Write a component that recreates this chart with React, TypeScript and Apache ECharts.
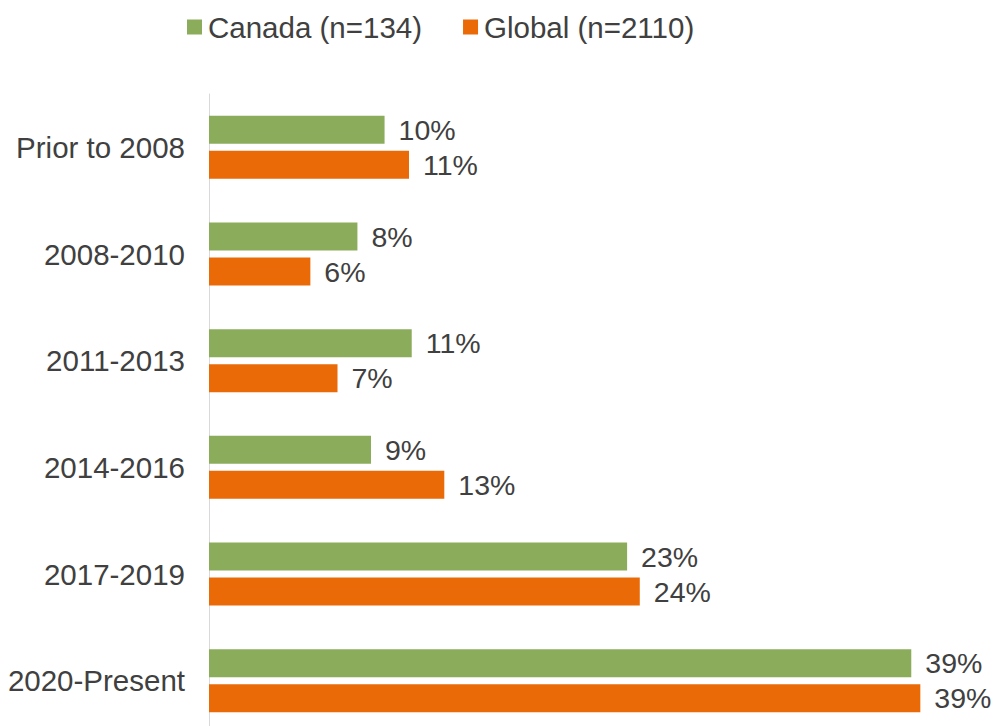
import React, { useEffect, useRef } from "react";
import * as echarts from "echarts";

const categories = ["Prior to 2008", "2008-2010", "2011-2013", "2014-2016", "2017-2019", "2020-Present"];
const canadaValues = [9.7, 8.2, 11.2, 8.95, 23.1, 38.8];
const globalValues = [11.05, 5.6, 7.1, 13.0, 23.8, 39.3];
const seriesNames = ["Canada (n=134)", "Global (n=2110)"];

const FONT = "'Liberation Sans', Arial, sans-serif";
const TEXT = "#404040";

export default function App() {
  const ref = useRef<HTMLDivElement>(null);
  useEffect(() => {
    if (!ref.current) return;
    const chart = echarts.init(ref.current, undefined, { renderer: "svg" });
    const label = {
      show: true,
      position: "right",
      distance: 14,
      color: TEXT,
      fontSize: 28.5,
      fontFamily: FONT,
      formatter: (p: any) => Math.round(p.value) + "%",
    };
    chart.setOption({
      animation: false,
      textStyle: { fontFamily: FONT },
      legend: {
        left: 182,
        top: 7,
        itemWidth: 15,
        itemHeight: 15,
        itemGap: 41,
        icon: "rect",
        textStyle: { fontSize: 29.5, color: TEXT, fontFamily: FONT, padding: [0, 0, 0, 1] },
        data: seriesNames,
      },
      grid: { left: 209, top: 94, width: 724, height: 640, containLabel: false },
      xAxis: {
        type: "value",
        min: 0,
        max: 40,
        show: false,
        splitLine: { show: false },
      },
      yAxis: {
        type: "category",
        inverse: true,
        data: categories,
        axisLine: { show: true, lineStyle: { color: "#D9D9D9", width: 1 } },
        axisTick: { show: false },
        axisLabel: { color: TEXT, fontSize: 29.5, fontFamily: FONT, margin: 24 },
      },
      series: [
        {
          name: seriesNames[0],
          type: "bar",
          data: canadaValues,
          barWidth: 28,
          barGap: "25%",
          itemStyle: { color: "#8BAC5B" },
          label,
        },
        {
          name: seriesNames[1],
          type: "bar",
          data: globalValues,
          barWidth: 28,
          barGap: "25%",
          itemStyle: { color: "#EA6A08" },
          label,
        },
      ],
    });
    return () => chart.dispose();
  }, []);
  return (
    <div style={{ position: "fixed", left: 0, top: 0, width: 1002, height: 726, overflow: "hidden", background: "#fff" }}>
      <div ref={ref} style={{ width: 1002, height: 740 }} />
    </div>
  );
}
